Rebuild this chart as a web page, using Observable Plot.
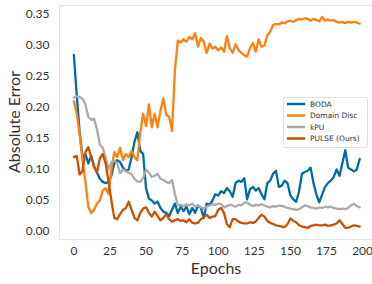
<!DOCTYPE html>
<html>
<head>
<meta charset="utf-8">
<script src="https://cdn.jsdelivr.net/npm/d3@7"></script>
<script src="https://cdn.jsdelivr.net/npm/@observablehq/plot@0.6"></script>
<style>
  html, body { margin: 0; padding: 0; background: #fff; }
  #chart { position: relative; width: 372px; height: 284px; }
</style>
</head>
<body>
<div id="chart"></div>
<script>
const epochs = [0,2,4,6,8,10,12,14,16,18,20,22,24,26,28,30,32,34,36,38,40,42,44,46,48,50,52,54,56,58,60,62,64,66,68,70,72,74,76,78,80,82,84,86,88,90,92,94,96,98,100,102,104,106,108,110,112,114,116,118,120,122,124,126,128,130,132,134,136,138,140,142,144,146,148,150,152,154,156,158,160,162,164,166,168,170,172,174,176,178,180,182,184,186,188,190,192,194,196,198];

const boda = [0.285,0.22,0.16,0.12,0.125,0.11,0.122,0.105,0.095,0.085,0.08,0.078,0.08,0.09,0.11,0.115,0.112,0.103,0.098,0.1,0.12,0.145,0.16,0.13,0.125,0.07,0.053,0.05,0.045,0.048,0.038,0.032,0.03,0.025,0.035,0.045,0.03,0.04,0.033,0.04,0.028,0.038,0.03,0.042,0.038,0.022,0.045,0.043,0.05,0.06,0.058,0.065,0.062,0.07,0.065,0.056,0.078,0.082,0.08,0.086,0.052,0.068,0.072,0.066,0.07,0.06,0.052,0.078,0.082,0.093,0.098,0.072,0.074,0.082,0.078,0.058,0.052,0.048,0.065,0.093,0.096,0.098,0.103,0.078,0.06,0.047,0.06,0.072,0.078,0.082,0.088,0.1,0.09,0.11,0.131,0.103,0.1,0.097,0.1,0.117];

const domainDisc = [0.21,0.19,0.158,0.115,0.08,0.04,0.03,0.035,0.045,0.05,0.066,0.07,0.06,0.1,0.128,0.12,0.135,0.115,0.125,0.12,0.13,0.12,0.115,0.16,0.19,0.17,0.205,0.168,0.19,0.168,0.195,0.215,0.188,0.185,0.162,0.26,0.308,0.305,0.31,0.306,0.314,0.31,0.32,0.298,0.312,0.306,0.288,0.303,0.295,0.298,0.292,0.297,0.29,0.315,0.296,0.288,0.302,0.293,0.288,0.284,0.282,0.296,0.304,0.29,0.31,0.298,0.3,0.316,0.322,0.333,0.335,0.334,0.337,0.336,0.339,0.34,0.338,0.341,0.343,0.342,0.344,0.343,0.34,0.343,0.341,0.339,0.346,0.34,0.342,0.34,0.341,0.338,0.337,0.338,0.336,0.338,0.337,0.338,0.337,0.335];

const kpu = [0.216,0.218,0.217,0.214,0.205,0.185,0.18,0.182,0.165,0.14,0.135,0.12,0.1,0.112,0.115,0.11,0.094,0.1,0.097,0.095,0.092,0.085,0.081,0.08,0.087,0.099,0.095,0.088,0.09,0.093,0.085,0.083,0.08,0.078,0.083,0.06,0.042,0.043,0.041,0.044,0.042,0.045,0.04,0.042,0.039,0.037,0.04,0.042,0.044,0.043,0.045,0.044,0.039,0.041,0.043,0.042,0.04,0.043,0.042,0.046,0.047,0.043,0.041,0.043,0.042,0.044,0.042,0.04,0.039,0.041,0.04,0.042,0.041,0.04,0.038,0.037,0.036,0.035,0.036,0.039,0.042,0.041,0.039,0.038,0.037,0.039,0.038,0.04,0.039,0.04,0.038,0.037,0.036,0.037,0.036,0.038,0.042,0.045,0.041,0.039];

const pulse = [0.12,0.122,0.092,0.098,0.128,0.136,0.12,0.105,0.095,0.118,0.125,0.11,0.08,0.05,0.022,0.02,0.028,0.035,0.038,0.048,0.035,0.022,0.018,0.03,0.037,0.039,0.03,0.024,0.032,0.025,0.018,0.022,0.028,0.02,0.016,0.018,0.02,0.017,0.018,0.015,0.02,0.014,0.013,0.014,0.02,0.023,0.027,0.022,0.024,0.025,0.035,0.038,0.03,0.012,0.007,0.02,0.02,0.016,0.014,0.013,0.013,0.015,0.014,0.016,0.022,0.027,0.024,0.017,0.014,0.012,0.01,0.009,0.008,0.007,0.012,0.021,0.017,0.015,0.01,0.008,0.007,0.006,0.009,0.01,0.011,0.01,0.01,0.011,0.009,0.01,0.011,0.013,0.018,0.012,0.006,0.006,0.008,0.01,0.009,0.008];

const seriesNames = ["BODA", "Domain Disc", "kPU", "PULSE (Ours)"];
const seriesColors = ["#006BA4", "#FF800E", "#ABABAB", "#C85200"];
const xTicks = [0, 25, 50, 75, 100, 125, 150, 175, 200];
const yTicks = [0, 0.05, 0.10, 0.15, 0.20, 0.25, 0.30, 0.35];
const xLabel = "Epochs";
const yLabel = "Absolute Error";

const seriesValues = [boda, domainDisc, kpu, pulse];
const rows = [];
seriesNames.forEach((name, i) => {
  epochs.forEach((e, j) => rows.push({epoch: e, value: seriesValues[i][j], series: name}));
});

const fontFam = "Lato, 'Open Sans', sans-serif";

const chart = Plot.plot({
  width: 372,
  height: 284,
  marginLeft: 59,
  marginRight: -3,
  marginTop: 5,
  marginBottom: 45,
  style: {fontFamily: fontFam, color: "#333", background: "white"},
  x: {domain: [-9.95, 208.95]},
  y: {domain: [-0.0129, 0.3645]},
  color: {domain: seriesNames, range: seriesColors},
  marks: [
    Plot.frame({stroke: "#e3e3e3", strokeWidth: 1.2}),
    Plot.axisX({ticks: xTicks, tickSize: 0, tickPadding: 7, fontSize: 12, label: null, tickFormat: d => String(d)}),
    Plot.axisY({ticks: yTicks, tickSize: 0, tickPadding: 10, fontSize: 12, label: null, tickFormat: d3.format(".2f")}),
    Plot.lineY(rows, {x: "epoch", y: "value", z: "series", stroke: "series", strokeWidth: 2.3, strokeLinejoin: "round"})
  ]
});

document.getElementById("chart").appendChild(chart);

const svg = d3.select(chart);
// axis titles
svg.append("text").attr("x", 216).attr("y", 274).attr("text-anchor", "middle")
  .attr("font-family", fontFam).attr("font-size", 16).attr("fill", "#333").text(xLabel);
svg.append("text").attr("transform", "translate(20,122) rotate(-90)").attr("text-anchor", "middle")
  .attr("font-family", fontFam).attr("font-size", 16).attr("fill", "#333").text(yLabel);

// legend
const lg = svg.append("g").attr("font-family", "'DejaVu Sans', sans-serif").attr("font-size", 7.5).attr("text-anchor", "start");
lg.append("rect").attr("x", 283.5).attr("y", 97.5).attr("width", 84).attr("height", 50)
  .attr("rx", 2).attr("fill", "white").attr("fill-opacity", 0.85).attr("stroke", "#d9d9d9").attr("stroke-width", 0.8);
seriesNames.forEach((name, i) => {
  const y = 104 + i * 11.5;
  lg.append("line").attr("x1", 287).attr("x2", 305).attr("y1", y).attr("y2", y)
    .attr("stroke", seriesColors[i]).attr("stroke-width", 2.5);
  lg.append("text").attr("x", 310).attr("y", y).attr("dy", "0.35em").attr("fill", "#333").text(name);
});
</script>
</body>
</html>
